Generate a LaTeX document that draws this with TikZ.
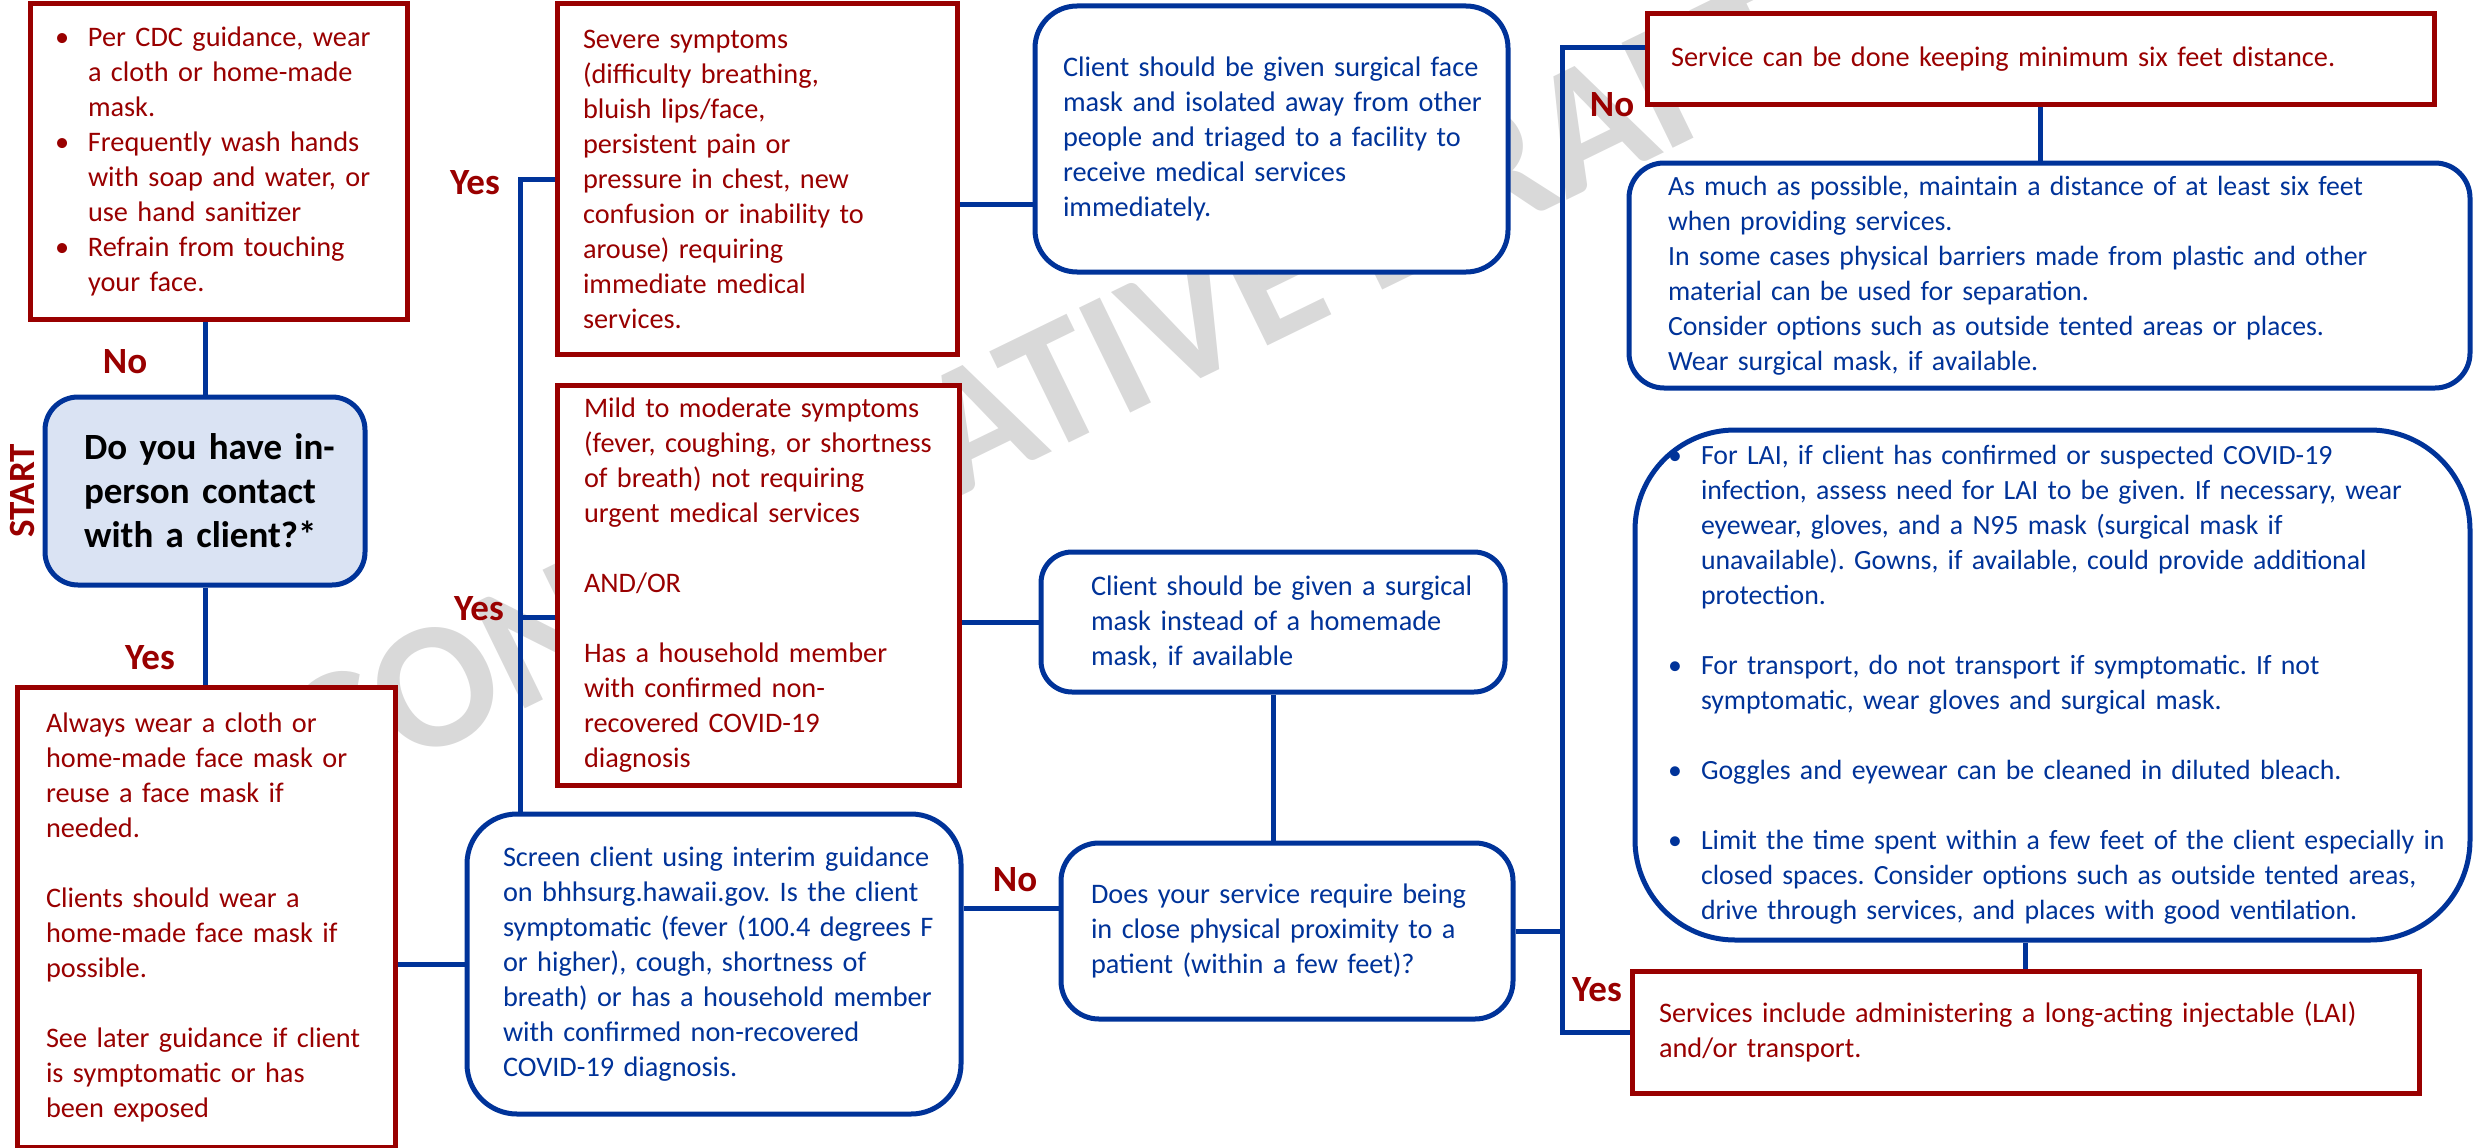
\documentclass[tikz,border=0pt]{standalone}
\usepackage{fontspec}
\setmainfont{Carlito}
\usetikzlibrary{calc}
\definecolor{dred}{HTML}{990000}
\definecolor{dblue}{HTML}{003399}
\definecolor{lfill}{HTML}{DAE3F3}
\definecolor{wmark}{HTML}{D9D9D9}
\newcommand{\Tl}[1]{\mbox{#1}}
\newcommand{\Bul}{\makebox[33pt][l]{\textbullet}}
\newcommand{\Ind}{\hspace*{33pt}}
\pgfdeclarelayer{bg}
\pgfsetlayers{bg,main}
\frenchspacing
\begin{document}
\begin{tikzpicture}[x=1pt,y=-1pt,
  txt/.style={font=\frenchspacing\fontsize{28.3}{35}\selectfont},
  smalltxt/.style={font=\frenchspacing\fontsize{27.8}{35}\selectfont},
  dims/.style n args={4}{minimum width=#1pt, minimum height=#2pt, inner xsep=#3pt, inner ysep=0pt, text width=#4pt},
  redbox/.style={draw=dred, line width=5pt, fill=white, txt, text=dred, align=left},
  bluebox/.style={draw=dblue, line width=5pt, fill=white, txt, text=dblue, align=left},
  lbl/.style={font=\fontsize{37}{44}\selectfont\bfseries, text=dred, inner sep=0pt},
  conn/.style={draw=dblue, line width=5pt},
  wm/.style={font=\fontsize{180}{180}\selectfont\bfseries, text=wmark, rotate=26}
]
\useasboundingbox (0,0) rectangle (2473,1148);

% ---------- boxes ----------
\node[redbox, dims={377}{315}{25}{327}] (tl) at (218.5,161.5) {%
\Tl{\Bul Per CDC guidance, wear}\\
\Tl{\Ind a cloth or home-made}\\
\Tl{\Ind mask.}\\
\Tl{\Bul Frequently wash hands}\\
\Tl{\Ind with soap and water, or}\\
\Tl{\Ind use hand sanitizer}\\
\Tl{\Bul Refrain from touching}\\
\Tl{\Ind your face.}};

\node[draw=dblue, line width=5pt, fill=lfill, rounded corners=33pt, align=left,
      font=\fontsize{37}{44}\selectfont\bfseries, text=black,
      dims={320}{188}{39}{242}] (start) at (205,491) {%
\Tl{Do you have in-}\\
\Tl{person contact}\\
\Tl{with a client?*}};

\node[redbox, dims={378}{460}{29}{320}] (bl) at (206,917) {%
\Tl{Always wear a cloth or}\\
\Tl{home-made face mask or}\\
\Tl{reuse a face mask if}\\
\Tl{needed.}\\[35pt]
\Tl{Clients should wear a}\\
\Tl{home-made face mask if}\\
\Tl{possible.}\\[35pt]
\Tl{See later guidance if client}\\
\Tl{is symptomatic or has}\\
\Tl{been exposed}};

\node[redbox, dims={400}{350}{26}{348}] (severe) at (757,179) {%
\Tl{Severe symptoms}\\
\Tl{(difficulty breathing,}\\
\Tl{bluish lips/face,}\\
\Tl{persistent pain or}\\
\Tl{pressure in chest, new}\\
\Tl{confusion or inability to}\\
\Tl{arouse) requiring}\\
\Tl{immediate medical}\\
\Tl{services.}};

\node[redbox, dims={402}{400}{27}{348}] (mild) at (758,585) {%
\Tl{Mild to moderate symptoms}\\
\Tl{(fever, coughing, or shortness}\\
\Tl{of breath) not requiring}\\
\Tl{urgent medical services}\\[35pt]
\Tl{AND/OR}\\[35pt]
\Tl{Has a household member}\\
\Tl{with confirmed non-}\\
\Tl{recovered COVID-19}\\
\Tl{diagnosis}};

\node[bluebox, rounded corners=50pt, dims={494}{300}{36}{422}] (screen) at (714,964) {%
\Tl{Screen client using interim guidance}\\
\Tl{on bhhsurg.hawaii.gov. Is the client}\\
\Tl{symptomatic (fever (100.4 degrees F}\\
\Tl{or higher), cough, shortness of}\\
\Tl{breath) or has a household member}\\
\Tl{with confirmed non-recovered}\\
\Tl{COVID-19 diagnosis.}};

\node[bluebox, rounded corners=42pt, dims={473}{266}{28}{417}] (box1) at (1271.5,139) {%
\Tl{Client should be given surgical face}\\
\Tl{mask and isolated away from other}\\
\Tl{people and triaged to a facility to}\\
\Tl{receive medical services}\\
\Tl{immediately.}};

\node[bluebox, rounded corners=31pt, dims={464}{140}{50}{364}] (box2) at (1273,622) {%
\Tl{Client should be given a surgical}\\
\Tl{mask instead of a homemade}\\
\Tl{mask, if available}};

\node[bluebox, rounded corners=38pt, dims={452}{176}{30}{392}] (box3) at (1287,931) {%
\Tl{Does your service require being}\\
\Tl{in close physical proximity to a}\\
\Tl{patient (within a few feet)?}};

\node[redbox, dims={787}{90}{24}{739}] (service) at (2040.5,59) {%
\Tl{Service can be done keeping minimum six feet distance.}};

\node[bluebox, smalltxt, rounded corners=35pt, dims={841}{225}{39}{763}] (box4) at (2049.5,275.5) {%
\Tl{As much as possible, maintain a distance of at least six feet}\\
\Tl{when providing services.}\\
\Tl{In some cases physical barriers made from plastic and other}\\
\Tl{material can be used for separation.}\\
\Tl{Consider options such as outside tented areas or places.}\\
\Tl{Wear surgical mask, if available.}};

\node[bluebox, smalltxt, rounded corners=100pt, dims={835}{510}{33}{769}] (box5) at (2052.5,685) {%
\Tl{\Bul For LAI, if client has confirmed or suspected COVID-19}\\
\Tl{\Ind infection, assess need for LAI to be given. If necessary, wear}\\
\Tl{\Ind eyewear, gloves, and a N95 mask (surgical mask if}\\
\Tl{\Ind unavailable). Gowns, if available, could provide additional}\\
\Tl{\Ind protection.}\\[35pt]
\Tl{\Bul For transport, do not transport if symptomatic. If not}\\
\Tl{\Ind symptomatic, wear gloves and surgical mask.}\\[35pt]
\Tl{\Bul Goggles and eyewear can be cleaned in diluted bleach.}\\[35pt]
\Tl{\Bul Limit the time spent within a few feet of the client especially in}\\
\Tl{\Ind closed spaces. Consider options such as outside tented areas,}\\
\Tl{\Ind drive through services, and places with good ventilation.}};

\node[redbox, dims={787}{122}{27}{733}] (laibox) at (2025.5,1032) {%
\Tl{Services include administering a long-acting injectable (LAI)}\\
\Tl{and/or transport.}};

% ---------- labels ----------
\node[lbl] (no1) at (125,362) {No};
\node[lbl] (yes1) at (150,658) {Yes};
\node[lbl, rotate=90] (startlbl) at (22,491) {START};
\node[lbl] (yes2) at (475,183) {Yes};
\node[lbl] (yes3) at (479,609) {Yes};
\node[lbl] (no2) at (1015,880) {No};
\node[lbl] (no3) at (1612,105) {No};
\node[lbl] (yes4) at (1597,990) {Yes};

% ---------- watermark and connectors (behind) ----------
\begin{pgfonlayer}{bg}
\node[wm] (wmtext) at (1045,390) {CONSERVATIVE DRAFT};
\draw[conn] (start.north) -- (start.north |- tl.south);
\draw[conn] (start.south) -- (start.south |- bl.north);
\coordinate (ytop) at (520,179);
\draw[conn] (severe.west) -- (ytop) -- (ytop |- screen.north);
\coordinate (mj) at ($(mild.west)+(0,32)$);
\draw[conn] (mj) -- (mj -| ytop);
\draw[conn] (screen.west) -- (screen.west -| bl.east);
\coordinate (sj) at ($(box3.west)+(0,-23)$);
\draw[conn] (sj) -- (sj -| screen.east);
\draw[conn] (box2.west) -- (box2.west -| mild.east);
\coordinate (vj) at ($(severe.east)+(0,25)$);
\draw[conn] (vj) -- (vj -| box1.west);
\draw[conn] (box2.south) -- (box2.south |- box3.north);
\coordinate (rtop) at (1562,48);
\draw[conn] (box3.east) -- (box3.east -| rtop);
\draw[conn] (laibox.west) -| (rtop) -- (rtop -| service.west);
\draw[conn] (service.south) -- (service.south |- box4.north);
\draw[conn] (laibox.north) -- (laibox.north |- box5.south);
\end{pgfonlayer}
\end{tikzpicture}
\end{document}
